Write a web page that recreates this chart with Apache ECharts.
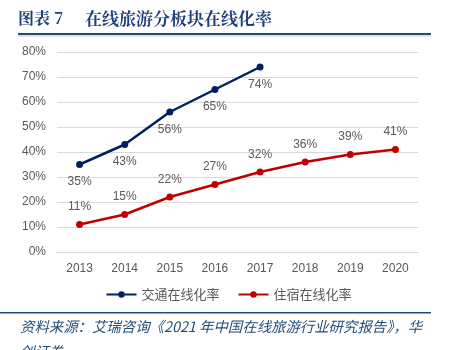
<!DOCTYPE html>
<html><head><meta charset="utf-8">
<script src="https://cdn.jsdelivr.net/npm/echarts@6/dist/echarts.min.js"></script>
<style>html,body{margin:0;padding:0;background:#fff}#c{width:457px;height:350px}</style>
</head><body><div id="c"></div>
<script>
const years = ['2013','2014','2015','2016','2017','2018','2019','2020'];
const transport = [35, 43, 56, 65, 74, null, null, null];
const lodging = [11, 15, 22, 27, 32, 36, 39, 41];
const yTicks = [0, 10, 20, 30, 40, 50, 60, 70, 80];
const seriesNames = ['交通在线化率', '住宿在线化率'];

const chart = echarts.init(document.getElementById('c'));
const font = '"Noto Sans CJK SC", "Noto Sans", sans-serif';
const numFont = '"Liberation Sans", "Noto Sans", sans-serif';
chart.setOption({
  animation: false,
  textStyle: { fontFamily: font },
  grid: { left: 57, right: 39, top: 52, bottom: 98 },
  xAxis: {
    type: 'category', data: years, boundaryGap: true,
    axisLine: { lineStyle: { color: '#d9d9d9' } },
    axisTick: { show: false },
    axisLabel: { color: '#595959', fontSize: 12, margin: 11, fontFamily: numFont }
  },
  yAxis: {
    type: 'value', min: yTicks[0], max: yTicks[yTicks.length - 1], interval: 10,
    axisLine: { show: false }, axisTick: { show: false },
    splitLine: { lineStyle: { color: '#d9d9d9' } },
    axisLabel: { color: '#595959', fontSize: 12, margin: 11, formatter: v => v + '%', fontFamily: numFont }
  },
  legend: {
    bottom: 44, left: 'center', itemGap: 18, itemWidth: 30, itemHeight: 8,
    textStyle: { color: '#595959', fontSize: 13, fontFamily: font },
    data: seriesNames
  },
  series: [
    {
      name: seriesNames[0], type: 'line', data: transport,
      symbol: 'circle', symbolSize: 7,
      itemStyle: { color: '#002060' }, lineStyle: { color: '#002060', width: 2.5 },
      label: { show: true, position: 'bottom', distance: 8, color: '#595959', fontSize: 12, fontFamily: numFont, formatter: p => p.value + '%' }
    },
    {
      name: seriesNames[1], type: 'line', data: lodging,
      symbol: 'circle', symbolSize: 7,
      itemStyle: { color: '#C00000' }, lineStyle: { color: '#C00000', width: 2.5 },
      label: { show: true, position: 'top', distance: 8, color: '#595959', fontSize: 12, fontFamily: numFont, formatter: p => p.value + '%' }
    }
  ],
  graphic: [
    { type: 'text', left: 18, top: 10, style: { text: '图表 7', font: 'bold 16px "Noto Serif CJK SC", "Noto Sans CJK SC"', fill: '#1F3F7A' } },
    { type: 'text', left: 85, top: 10, style: { text: '在线旅游分板块在线化率', font: 'bold 17px "Noto Serif CJK SC", "Noto Sans CJK SC"', fill: '#1F3F7A' } },
    { type: 'rect', shape: { x: 18, y: 33, width: 413, height: 2 }, style: { fill: '#1F4E79' } },
    { type: 'rect', shape: { x: 18, y: 35.5, width: 413, height: 1 }, style: { fill: '#c8c8c8' } },
    { type: 'rect', shape: { x: 0, y: 312, width: 431, height: 1.5 }, style: { fill: '#1F4E79' } },
    { type: 'text', left: 20, top: 319, style: { text: '资料来源：艾瑞咨询《2021 年中国在线旅游行业研究报告》，华', font: 'italic 14.4px "Noto Sans CJK SC"', fill: '#1F4E79' } },
    { type: 'text', left: 20, top: 344, style: { text: '创证券', font: 'italic 14.4px "Noto Sans CJK SC"', fill: '#1F4E79' } }
  ]
});
</script></body></html>
